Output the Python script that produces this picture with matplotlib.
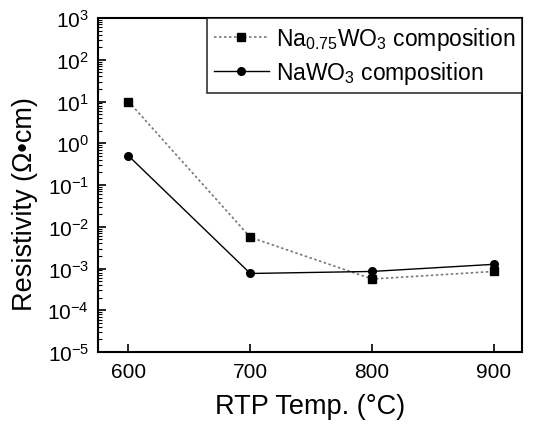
import matplotlib
matplotlib.use("Agg")
import matplotlib.pyplot as plt
from matplotlib.ticker import LogLocator, NullFormatter

plt.rcParams['font.family'] = ['Liberation Sans', 'DejaVu Sans']
plt.rcParams['mathtext.fontset'] = 'custom'
plt.rcParams['mathtext.rm'] = 'Liberation Sans'

temps = [600, 700, 800, 900]
na075 = [10.0, 5.6e-3, 5.6e-4, 8.5e-4]
nawo3 = [0.5, 7.6e-4, 8.5e-4, 1.26e-3]
xticks = [600, 700, 800, 900]

fig = plt.figure(figsize=(5.36, 4.27), dpi=100)
ax = fig.add_axes([98/536, 1-353/427, 424/536, 334/427])

ax.plot(temps, na075, linestyle=(0, (1.5, 1.5)), color='#777777', lw=1.2,
        marker='s', ms=5.5, mfc='black', mec='black',
        label=r'Na$_{0.75}$WO$_3$ composition')
ax.plot(temps, nawo3, linestyle='-', color='black', lw=1.0,
        marker='o', ms=5.5, mfc='black', mec='black',
        label=r'NaWO$_3$ composition')

ax.set_yscale('log')
ax.set_ylim(1e-5, 1e3)
ax.set_xlim(575, 923)
ax.set_xticks(xticks)
ax.set_yticks([10.0**k for k in range(-5, 4)])
ax.yaxis.set_minor_locator(LogLocator(base=10, subs=range(2, 10), numticks=20))
ax.yaxis.set_minor_formatter(NullFormatter())
ax.tick_params(axis='both', which='major', direction='in', labelsize=15, length=6, width=1.2)
ax.tick_params(axis='x', which='major', pad=7)
ax.tick_params(axis='y', which='major', pad=6.5)
ax.tick_params(axis='y', which='minor', direction='in', length=3, width=0.8)
ax.tick_params(top=False, right=False)
for s in ax.spines.values():
    s.set_linewidth(1.5)

ax.set_xlabel('RTP Temp. (°C)', fontsize=19.5, labelpad=9)
ax.set_ylabel('Resistivity (Ω•cm)', fontsize=19.5)
ax.yaxis.set_label_coords(-0.1415, 0.446)

leg = ax.legend(loc='upper right', fontsize=16.5, frameon=True, fancybox=False,
                edgecolor='black', handlelength=2.4, borderaxespad=0.0,
                borderpad=0.3, labelspacing=0.3, handletextpad=0.3)
leg.get_frame().set_linewidth(1.2)

fig.savefig('out.png', dpi=100)
